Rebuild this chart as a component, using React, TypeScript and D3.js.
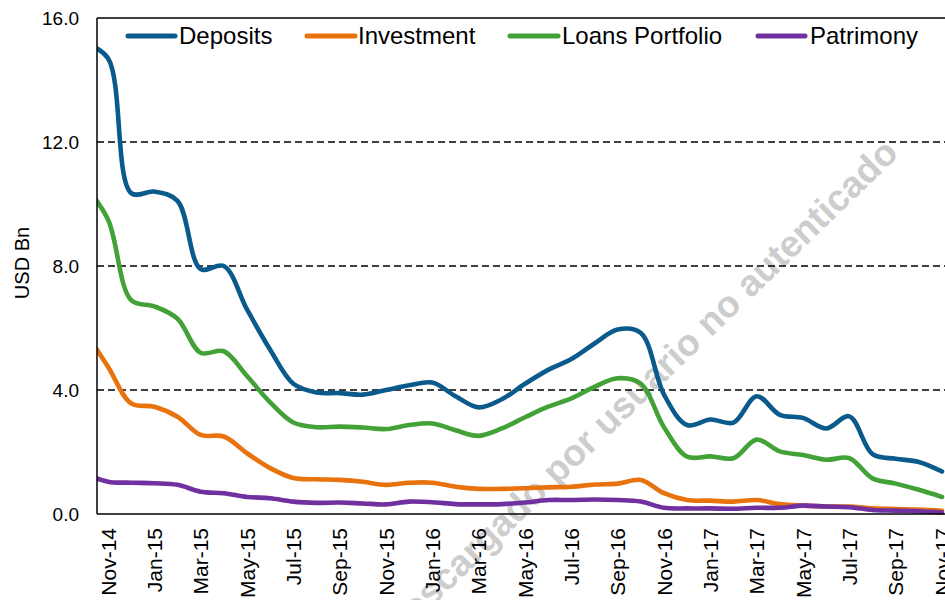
import React from "react";
import * as d3 from "d3";

// Monthly data, Oct-14 (partly outside the plot) through Nov-17
const months = [
  "Oct-14", "Nov-14", "Dec-14", "Jan-15", "Feb-15", "Mar-15", "Apr-15", "May-15", "Jun-15", "Jul-15",
  "Aug-15", "Sep-15", "Oct-15", "Nov-15", "Dec-15", "Jan-16", "Feb-16", "Mar-16", "Apr-16", "May-16",
  "Jun-16", "Jul-16", "Aug-16", "Sep-16", "Oct-16", "Nov-16", "Dec-16", "Jan-17", "Feb-17", "Mar-17",
  "Apr-17", "May-17", "Jun-17", "Jul-17", "Aug-17", "Sep-17", "Oct-17", "Nov-17",
];

const deposits = [
  15.2, 14.7, 10.35, 10.4, 10.1, 7.9, 8.0, 6.6, 5.3, 4.2,
  3.92, 3.9, 3.85, 4.0, 4.15, 4.24, 3.8, 3.44, 3.7, 4.2,
  4.65, 5.0, 5.5, 5.95, 5.84, 3.85, 2.87, 3.05, 2.95, 3.8,
  3.2, 3.1, 2.76, 3.15, 1.93, 1.78, 1.68, 1.37,
];

const investment = [
  5.9, 4.75, 3.57, 3.46, 3.14, 2.55, 2.5, 1.96, 1.48, 1.16,
  1.12, 1.1, 1.04, 0.94, 1.01, 1.01, 0.88, 0.81, 0.81, 0.83,
  0.86, 0.88, 0.95, 0.98, 1.1, 0.67, 0.45, 0.43, 0.4, 0.45,
  0.32, 0.27, 0.24, 0.24, 0.18, 0.16, 0.14, 0.1,
];

const loans = [
  10.6, 9.5, 6.9, 6.7, 6.3, 5.2, 5.25, 4.45, 3.6, 2.95,
  2.8, 2.82, 2.79, 2.74, 2.87, 2.92, 2.7, 2.52, 2.76, 3.12,
  3.46, 3.73, 4.1, 4.38, 4.2, 2.8, 1.85, 1.86, 1.8, 2.4,
  2.02, 1.9, 1.75, 1.8, 1.15, 0.98, 0.78, 0.55,
];

const patrimony = [
  1.3, 1.04, 1.01, 0.99, 0.94, 0.72, 0.67, 0.55, 0.51, 0.4,
  0.36, 0.37, 0.34, 0.31, 0.4, 0.38, 0.32, 0.31, 0.32, 0.37,
  0.45, 0.45, 0.47, 0.45, 0.4, 0.2, 0.18, 0.18, 0.17, 0.2,
  0.2, 0.27, 0.24, 0.22, 0.13, 0.11, 0.09, 0.05,
];

const seriesNames = ["Deposits", "Investment", "Loans Portfolio", "Patrimony"];
const seriesValues = [deposits, investment, loans, patrimony];
const seriesColors = ["#0B5A8C", "#E8720C", "#43A237", "#7030A0"];

const xTickLabels = [
  "Nov-14", "Jan-15", "Mar-15", "May-15", "Jul-15", "Sep-15", "Nov-15", "Jan-16", "Mar-16", "May-16",
  "Jul-16", "Sep-16", "Nov-16", "Jan-17", "Mar-17", "May-17", "Jul-17", "Sep-17", "Nov-17",
];
const yTicks = [0, 4, 8, 12, 16];
const watermark = "Descargado por usuario no autenticado";

const FONT = "'Liberation Sans', Arial, sans-serif";

export default function App() {
  const W = 945;
  const H = 600;
  const plotLeft = 97;
  const plotRight = 945;
  const plotTop = 18;
  const plotBottom = 514;

  // index 0 = Nov-14; Oct-14 is index -1 (left of the axis, clipped)
  const x = d3.scaleLinear().domain([0, 36]).range([108, 942]);
  const y = d3.scaleLinear().domain([0, 16]).range([plotBottom, plotTop]);

  const line = d3
    .line<number>()
    .x((_, i) => x(i - 1))
    .y((d) => y(d))
    .curve(d3.curveCatmullRom.alpha(0.5));

  const legendItems = [
    { x0: 128, x1: 175, tx: 179 },
    { x0: 307, x1: 355, tx: 358 },
    { x0: 510, x1: 558, tx: 562 },
    { x0: 758, x1: 805, tx: 810 },
  ];

  return (
    <svg
      width={W}
      height={H}
      viewBox={`0 0 ${W} ${H}`}
      style={{ position: "absolute", left: 0, top: 0, background: "#fff" }}
      fontFamily={FONT}
    >
      <defs>
        <clipPath id="plotClip">
          <rect x={plotLeft} y={0} width={W} height={H} />
        </clipPath>
      </defs>
      <rect x={0} y={0} width={W} height={H} fill="#fff" />

      {/* watermark */}
      <text
        transform="translate(900,155) rotate(-44)"
        textAnchor="end"
        fontSize={37}
        fontWeight="bold"
        fill="#cdcdcd"
      >
        {watermark}
      </text>

      {/* dashed gridlines */}
      {yTicks
        .filter((t) => t > 0 && t < 16)
        .map((t) => (
          <line
            key={t}
            x1={plotLeft}
            x2={plotRight}
            y1={y(t)}
            y2={y(t)}
            stroke="#000"
            strokeWidth={1.3}
            strokeDasharray="7,4"
          />
        ))}
      {/* top border */}
      <line x1={plotLeft} x2={plotRight} y1={y(16)} y2={y(16)} stroke="#000" strokeWidth={1.3} />

      {/* series */}
      <g clipPath="url(#plotClip)">
        {seriesValues.map((vals, si) => (
          <path
            key={si}
            d={line(vals) || ""}
            fill="none"
            stroke={seriesColors[si]}
            strokeWidth={4.6}
            strokeLinejoin="round"
            strokeLinecap="round"
          />
        ))}
      </g>

      {/* axes */}
      <line x1={plotLeft} x2={plotLeft} y1={plotTop} y2={plotBottom} stroke="#000" strokeWidth={1.5} />
      <line x1={plotLeft} x2={plotRight} y1={plotBottom} y2={plotBottom} stroke="#000" strokeWidth={1.5} />

      {/* y tick labels */}
      {yTicks.map((t) => (
        <text key={t} x={79} y={y(t)} dy="0.36em" textAnchor="end" fontSize={19} fill="#000">
          {t.toFixed(1)}
        </text>
      ))}

      {/* y axis title */}
      <text
        transform={`translate(22,263) rotate(-90)`}
        textAnchor="middle"
        dy="0.36em"
        fontSize={20}
        fill="#000"
      >
        USD Bn
      </text>

      {/* x tick labels */}
      {xTickLabels.map((lab, k) => (
        <text
          key={lab}
          transform={`translate(${x(k * 2)},528) rotate(-90)`}
          textAnchor="end"
          dy="0.36em"
          fontSize={21}
          fill="#000"
        >
          {lab}
        </text>
      ))}

      {/* legend */}
      {seriesNames.map((name, si) => (
        <g key={name}>
          <line
            x1={legendItems[si].x0}
            x2={legendItems[si].x1}
            y1={36}
            y2={36}
            stroke={seriesColors[si]}
            strokeWidth={5}
            strokeLinecap="round"
          />
          <text x={legendItems[si].tx} y={44} fontSize={24} fill="#000">
            {name}
          </text>
        </g>
      ))}
    </svg>
  );
}
